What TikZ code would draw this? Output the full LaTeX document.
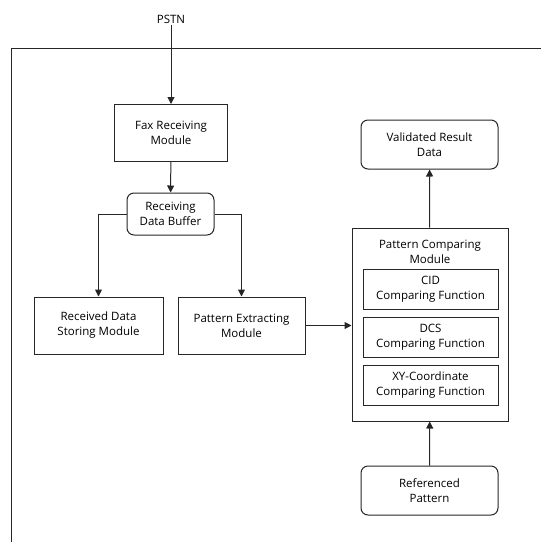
\documentclass[tikz,border=0pt]{standalone}
\usepackage{fontspec}
\setmainfont{Open Sans}
\usetikzlibrary{arrows.meta}

\begin{document}
\begin{tikzpicture}[x=1pt, y=-1pt, line width=1pt,
  font=\fontsize{11.5}{15}\selectfont,
  every node/.style={draw=black!85, align=center, inner sep=1pt},
  modbox/.style={rectangle, minimum width=113pt, minimum height=57pt},
  roundbox/.style={rectangle, rounded corners=7pt, minimum width=137pt, minimum height=49pt},
  funcbox/.style={rectangle, minimum width=135pt, minimum height=40pt},
  plain/.style={draw=none},
  flow/.style={draw=black!85, -{Triangle[length=7pt,width=7pt]}}]

  %% outer frame (top and left side only)
  \draw[black!85] (541,48) -- (11,48) -- (11,542);

  %% receiving chain
  \node[plain] (pstn) at (171,19) {PSTN};
  \node[modbox] (fax) at (171,133) {Fax Receiving\\Module};
  \node[roundbox, minimum width=87pt, minimum height=42pt] (buf) at (170.5,214) {Receiving\\Data Buffer};
  \node[modbox, minimum width=129pt] (store) at (98.5,325.5) {Received Data\\Storing Module};
  \node[modbox, minimum width=127pt] (extract) at (241.5,325.5) {Pattern Extracting\\Module};

  %% comparing module with its functions
  \node[rectangle, minimum width=156pt, minimum height=193pt] (cmp) at (430,324.5) {};
  \node[plain] (cmptitle) at (430,251.5) {Pattern Comparing\\Module};
  \node[funcbox] (cid) at (430.5,289) {CID\\Comparing Function};
  \node[funcbox] (dcs) at (430.5,337) {DCS\\Comparing Function};
  \node[funcbox] (xy) at (430.5,385) {XY-Coordinate\\Comparing Function};

  \node[roundbox] (valid) at (429.5,144.5) {Validated Result\\Data};
  \node[roundbox] (ref) at (429.5,490.5) {Referenced\\Pattern};

  %% connectors
  \draw[flow] (pstn) -- (fax);
  \draw[flow] (fax) -- (buf);
  \draw[flow] (buf.west) -| (store.north);
  \draw[flow] (buf.east) -| (extract.north);
  \draw[flow] (extract.east) -- (cmp.west |- extract.east);
  \draw[flow] (cmp) -- (valid);
  \draw[flow] (ref) -- (cmp);

  \pgfresetboundingbox
  \path[use as bounding box] (0,0) rectangle (541,542);
\end{tikzpicture}
\end{document}
